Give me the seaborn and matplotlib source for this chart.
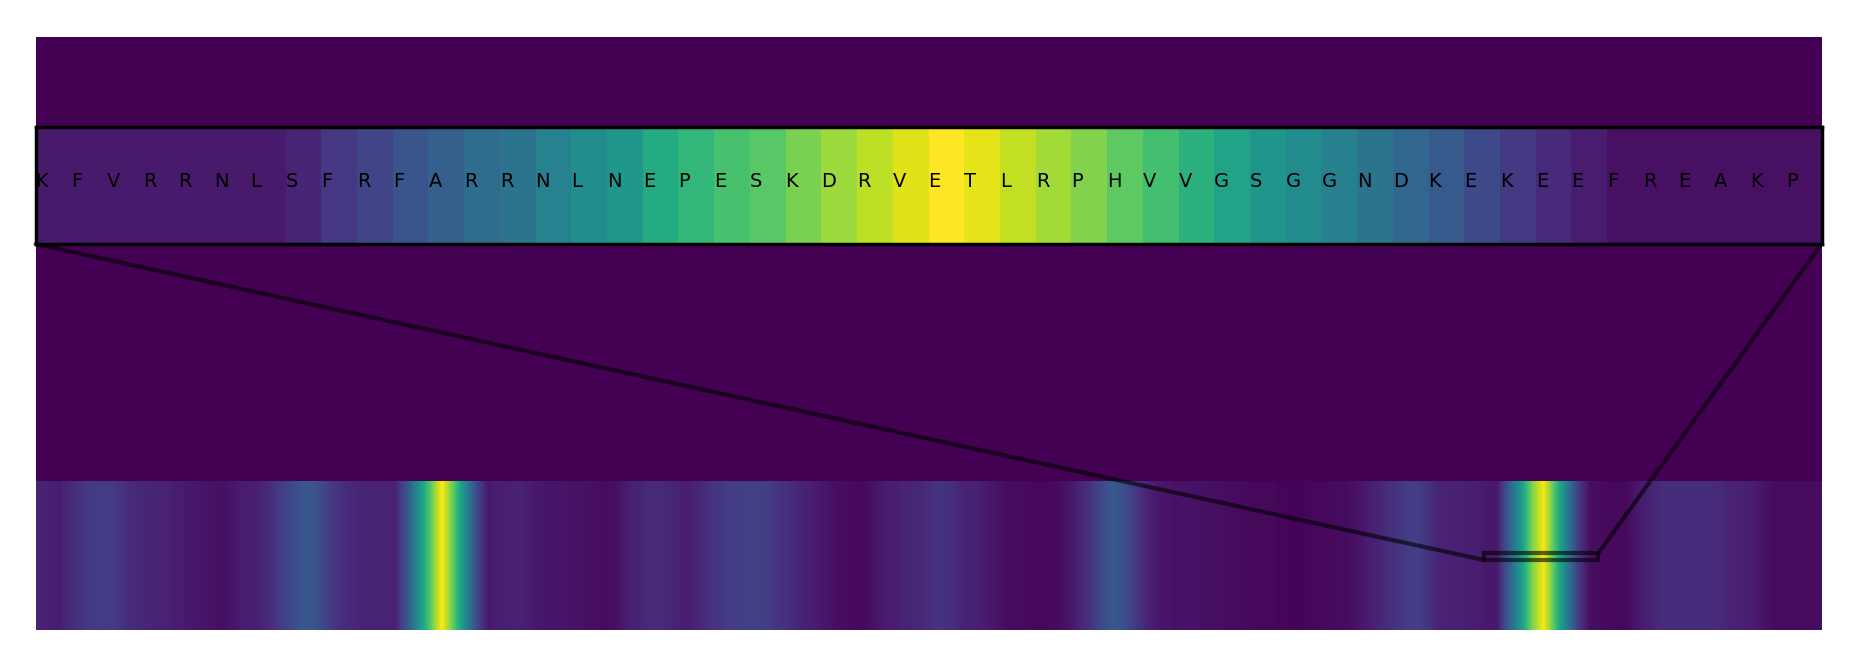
import numpy as np
import matplotlib
matplotlib.use("Agg")
import matplotlib.pyplot as plt
from matplotlib.patches import Rectangle, ConnectionPatch
import seaborn as sns

sns.set_theme(style="white")
plt.rcParams['font.family'] = ['DejaVu Sans']

seq_len = 770
profile_step = 5
profile = [
    0.10, 0.09, 0.08, 0.12, 0.15, 0.17, 0.18, 0.16, 0.13, 0.11,
    0.10, 0.10, 0.08, 0.07, 0.06, 0.05, 0.04, 0.06, 0.08, 0.09,
    0.12, 0.17, 0.22, 0.27, 0.26, 0.20, 0.15, 0.12, 0.10, 0.10,
    0.10, 0.10, 0.26, 0.50, 0.74, 1.00, 0.75, 0.48, 0.22, 0.07,
    0.08, 0.09, 0.09, 0.07, 0.06, 0.06, 0.05, 0.05, 0.04, 0.03,
    0.04, 0.08, 0.10, 0.12, 0.12, 0.10, 0.08, 0.10, 0.14, 0.16,
    0.18, 0.19, 0.19, 0.18, 0.15, 0.13, 0.10, 0.08, 0.06, 0.04,
    0.03, 0.02, 0.04, 0.07, 0.08, 0.10, 0.11, 0.13, 0.15, 0.13,
    0.10, 0.09, 0.07, 0.05, 0.03, 0.03, 0.02, 0.02, 0.03, 0.05,
    0.10, 0.15, 0.23, 0.28, 0.23, 0.15, 0.09, 0.06, 0.05, 0.05,
    0.05, 0.04, 0.04, 0.03, 0.03, 0.02, 0.02, 0.02, 0.01, 0.01,
    0.02, 0.02, 0.03, 0.03, 0.05, 0.08, 0.11, 0.14, 0.17, 0.19,
    0.15, 0.10, 0.09, 0.09, 0.08, 0.07, 0.07, 0.30, 0.53, 0.80,
    0.99, 0.70, 0.43, 0.17, 0.04, 0.03, 0.02, 0.02, 0.06, 0.09,
    0.12, 0.13, 0.13, 0.13, 0.13, 0.12, 0.10, 0.09, 0.08, 0.05,
    0.03, 0.03, 0.03, 0.03, 0.04,
]

# zoomed window (50 residues starting at residue 624)
window_start = 624
window_seq = list("KFVRRNLSFRFARRNLNEPESKDRVETLRPHVVGSGGNDKEKEEFREAKP")
window_vals = [
    0.07, 0.07, 0.07, 0.07, 0.07, 0.07, 0.07, 0.10, 0.16, 0.20,
    0.26, 0.30, 0.35, 0.38, 0.44, 0.49, 0.53, 0.61, 0.66, 0.71,
    0.74, 0.80, 0.85, 0.90, 0.95, 1.00, 0.96, 0.91, 0.86, 0.81,
    0.75, 0.70, 0.64, 0.58, 0.52, 0.48, 0.43, 0.38, 0.33, 0.28,
    0.22, 0.17, 0.12, 0.08, 0.04, 0.04, 0.04, 0.04, 0.04, 0.04,
]

cmap = "viridis"
bg = plt.get_cmap(cmap)(0.0)

fig = plt.figure(figsize=(18.57, 6.67), dpi=100)
ax = fig.add_axes([35.5 / 1857, 37 / 667, 1786 / 1857, 593 / 667])

# main strip: whole sequence, smooth rendering
half = profile_step / 2
ax.imshow(np.array(profile)[None, :], cmap=cmap, vmin=0, vmax=1, aspect="auto",
          interpolation="bilinear",
          extent=(-half, (len(profile) - 1) * profile_step + half, 0, 1))
ax.set_xlim(0, seq_len)
ax.set_ylim(0, 4)
ax.set_facecolor(bg)
ax.set_xticks([])
ax.set_yticks([])
for s in ax.spines.values():
    s.set_visible(False)

# inset with the residue letters
axins = ax.inset_axes([0, 0.651, 1, 0.197])
sns.heatmap(np.array([window_vals]), ax=axins, cmap=cmap, vmin=0, vmax=1,
            cbar=False, xticklabels=False, yticklabels=False)
for s in axins.spines.values():
    s.set_visible(True)
    s.set_color("black")
    s.set_linewidth(2.5)
for i, aa in enumerate(window_seq):
    axins.text(i, 0.534, aa, transform=axins.get_xaxis_transform(),
               ha="left", va="center", fontsize=14, color="black")

# box around the zoomed window and the two connector lines
rx, ry = window_start + 0.5, 0.472
rw, rh = len(window_seq) - 0.8, 0.045
ax.add_patch(Rectangle((rx, ry), rw, rh, fill=False, edgecolor="black",
                       alpha=0.6, linewidth=3, zorder=4))
for corner_ins, corner_rect in [((0, 0), (rx, ry)), ((1, 0), (rx + rw, ry + rh))]:
    con = ConnectionPatch(xyA=corner_ins, coordsA=axins.transAxes,
                          xyB=corner_rect, coordsB=ax.transData,
                          color="black", alpha=0.6, linewidth=3, zorder=4)
    ax.add_artist(con)

plt.savefig("out.png", dpi=100)
